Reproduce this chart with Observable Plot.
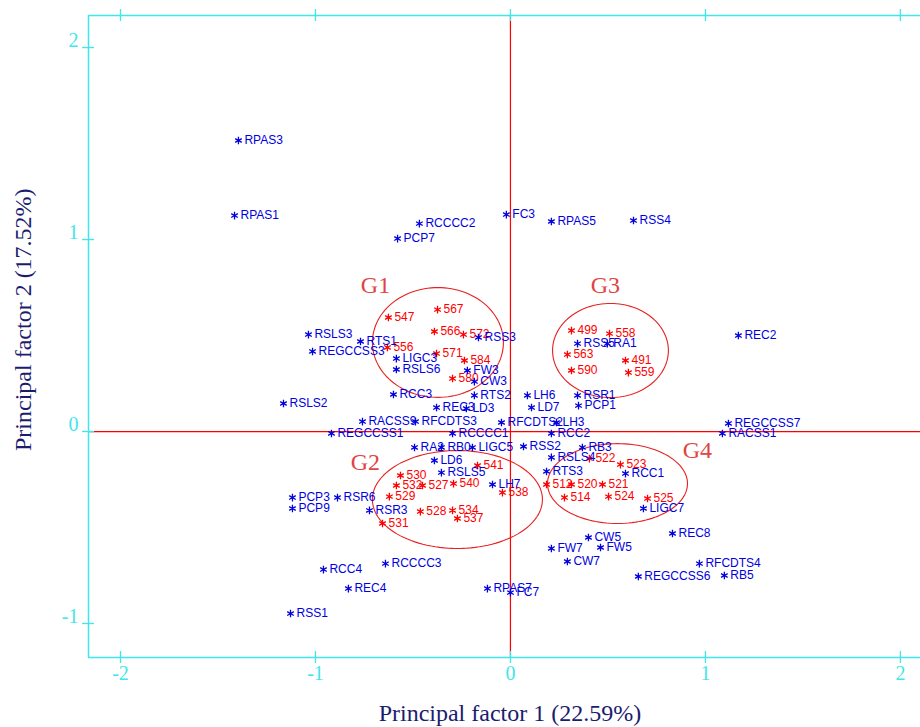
<!DOCTYPE html>
<html><head><meta charset="utf-8">
<script src="https://cdn.jsdelivr.net/npm/d3@7"></script>
<script src="https://cdn.jsdelivr.net/npm/@observablehq/plot@0.6"></script>
<style>body{margin:0;background:#fff}</style>
</head><body><div id="chart"></div>
<script>
// Trait loadings (blue)
const traitNames = ["RPAS3","RPAS1","RCCCC2","PCP7","FC3","RPAS5","RSS4","REC2","RSLS3","REGCCSS3","RTS1","RSS3","LIGC3","RSLS6","FW3","CW3","RCC3","RTS2","RSLS2","REC3","LD3","RACSS9","RFCDTS3","REGCCSS1","RCCCC1","RA2","RB0","LIGC5","LD6","RSLS5","LH7","PCP3","PCP9","RSR6","RSR3","RSS2","RB3","RSLS4","RTS3","RCC1","LIGC7","CW5","FW5","FW7","CW7","REC8","REGCCSS6","RFCDTS4","RB5","RCCCC3","RCC4","REC4","RSS1","RPAS7","FC7","LH6","LD7","RSR1","PCP1","RFCDTS2","LH3","RCC2","REGCCSS7","RACSS1","RSS5","RA1"];
const traitX = [-1.395,-1.415,-0.467,-0.579,-0.021,0.210,0.631,1.169,-1.036,-1.015,-0.769,-0.164,-0.585,-0.585,-0.221,-0.185,-0.600,-0.185,-1.164,-0.379,-0.226,-0.759,-0.487,-0.918,-0.297,-0.492,-0.354,-0.195,-0.390,-0.354,-0.092,-1.118,-1.118,-0.887,-0.723,0.067,0.369,0.210,0.185,0.590,0.682,0.400,0.462,0.210,0.292,0.831,0.656,0.969,1.097,-0.641,-0.959,-0.831,-1.128,-0.118,0.000,0.087,0.108,0.344,0.349,-0.046,0.236,0.210,1.118,1.087,0.344,0.497];
const traitY = [1.516,1.125,1.083,1.005,1.130,1.094,1.099,0.500,0.505,0.417,0.469,0.490,0.380,0.323,0.318,0.260,0.193,0.188,0.146,0.125,0.120,0.052,0.052,-0.010,-0.010,-0.083,-0.083,-0.083,-0.151,-0.214,-0.276,-0.344,-0.401,-0.344,-0.411,-0.078,-0.083,-0.135,-0.208,-0.219,-0.401,-0.552,-0.604,-0.609,-0.677,-0.531,-0.755,-0.688,-0.750,-0.688,-0.719,-0.818,-0.948,-0.818,-0.839,0.188,0.125,0.188,0.135,0.047,0.047,-0.010,0.042,-0.010,0.458,0.458];

// Genotype scores (red)
const genoNames = ["567","547","566","572","556","571","584","580","499","558","563","590","491","559","530","532","527","540","538","529","528","534","537","531","541","522","523","512","520","521","514","524","525"];
const genoX = [-0.374,-0.626,-0.390,-0.241,-0.631,-0.379,-0.236,-0.297,0.313,0.508,0.292,0.313,0.590,0.605,-0.564,-0.585,-0.451,-0.292,-0.041,-0.621,-0.462,-0.297,-0.272,-0.656,-0.169,0.405,0.564,0.185,0.313,0.472,0.277,0.503,0.703];
const genoY = [0.635,0.594,0.521,0.505,0.438,0.406,0.370,0.276,0.526,0.510,0.401,0.318,0.370,0.307,-0.229,-0.281,-0.281,-0.271,-0.318,-0.339,-0.417,-0.411,-0.453,-0.479,-0.177,-0.141,-0.172,-0.276,-0.276,-0.276,-0.344,-0.339,-0.349];

// Groups (ellipses in data units)
const groupNames = ["G1","G2","G3","G4"];
const groupCx = [-0.372,-0.272,0.513,0.549];
const groupCy = [0.464,-0.354,0.422,-0.271];
const groupRx = [0.336,0.436,0.297,0.359];
const groupRy = [0.286,0.255,0.245,0.208];
const groupLabelX = [-0.692,-0.744,0.487,0.959];
const groupLabelY = [0.760,-0.161,0.760,-0.099];

const xTicks = [-2,-1,0,1,2];
const yTicks = [-1,0,1,2];
const xDomain = [-2.164, 2.103];
const yDomain = [-1.177, 2.167];
const xTitle = "Principal factor 1 (22.59%)";
const yTitle = "Principal factor 2 (17.52%)";

const traits = traitNames.map((n,i)=>({name:n, x:traitX[i], y:traitY[i]}));
const genos = genoNames.map((n,i)=>({name:n, x:genoX[i], y:genoY[i]}));
const groups = groupNames.map((n,i)=>({name:n, lx:groupLabelX[i], ly:groupLabelY[i]}));
const ellipsePts = [];
groupNames.forEach((g,i)=>{
  for (let a=0; a<=360; a+=3){
    const t = a*Math.PI/180;
    ellipsePts.push({g, x: groupCx[i]+groupRx[i]*Math.cos(t), y: groupCy[i]+groupRy[i]*Math.sin(t)});
  }
});

const cyan = "#3fe6ea";
const blue = "#0000e0";
const red = "#ff0000";
const serif = "'Liberation Serif','DejaVu Serif',serif";
const sans = "'Liberation Sans',Arial,sans-serif";
const tx = 6/195, ty = 6/192;

const chart = Plot.plot({
  width: 920, height: 727,
  marginLeft: 88, marginRight: 0, marginTop: 15, marginBottom: 70,
  x: {domain: xDomain, axis: null},
  y: {domain: yDomain, axis: null},
  marks: [
    Plot.ruleX([0], {stroke: red, strokeWidth: 1.2}),
    Plot.ruleY([0], {stroke: red, strokeWidth: 1.2}),
    Plot.ruleY([yDomain[1], yDomain[0]], {stroke: cyan, strokeWidth: 1.5}),
    Plot.ruleX([xDomain[0]], {stroke: cyan, strokeWidth: 1.5}),
    Plot.ruleX(xTicks, {x: d=>d, y1: yDomain[1]-ty, y2: yDomain[1]+ty, stroke: cyan, strokeWidth: 1.3}),
    Plot.ruleX(xTicks, {x: d=>d, y1: yDomain[0]-ty, y2: yDomain[0]+ty, stroke: cyan, strokeWidth: 1.3}),
    Plot.ruleY(yTicks, {y: d=>d, x1: xDomain[0]-tx, x2: xDomain[0]+tx, stroke: cyan, strokeWidth: 1.3}),
    Plot.text(xTicks, {x: d=>d, y: ()=>yDomain[0], dy: 16, text: d=>String(d), fill: cyan, fontSize: 20, fontFamily: serif}),
    Plot.text(yTicks, {x: ()=>xDomain[0], y: d=>d, dx: -10, dy: -7, textAnchor: "end", text: d=>String(d), fill: cyan, fontSize: 20, fontFamily: serif}),
    Plot.line(ellipsePts, {x: "x", y: "y", z: "g", stroke: "#e82020", strokeWidth: 1.1, curve: "linear"}),
    Plot.text(groups, {x: "lx", y: "ly", text: "name", fill: "#e04444", fontSize: 24, fontFamily: serif}),
    Plot.dot(genos, {x: "x", y: "y", symbol: "asterisk", r: 3.6, stroke: red, strokeWidth: 1.3}),
    Plot.text(genos, {x: "x", y: "y", text: "name", dx: 6, textAnchor: "start", fill: red, fontSize: 12, fontFamily: sans}),
    Plot.dot(traits, {x: "x", y: "y", symbol: "asterisk", r: 3.6, stroke: blue, strokeWidth: 1.3}),
    Plot.text(traits, {x: "x", y: "y", text: "name", dx: 6, textAnchor: "start", fill: blue, fontSize: 12, fontFamily: sans})
  ]
});

const svg = d3.select(chart);
const xs = chart.scale("x"), ys = chart.scale("y");
svg.append("text")
  .attr("x", xs.apply(0)).attr("y", 715)
  .attr("text-anchor", "middle").attr("dominant-baseline", "middle")
  .attr("font-family", serif).attr("font-size", 24).attr("fill", "#1c1c6e")
  .text(xTitle);
svg.append("text")
  .attr("transform", `translate(25,${ys.apply(0.58)}) rotate(-90)`)
  .attr("text-anchor", "middle").attr("dominant-baseline", "middle")
  .attr("font-family", serif).attr("font-size", 24).attr("fill", "#1c1c6e")
  .text(yTitle);

document.getElementById("chart").appendChild(chart);
</script>
</body></html>
